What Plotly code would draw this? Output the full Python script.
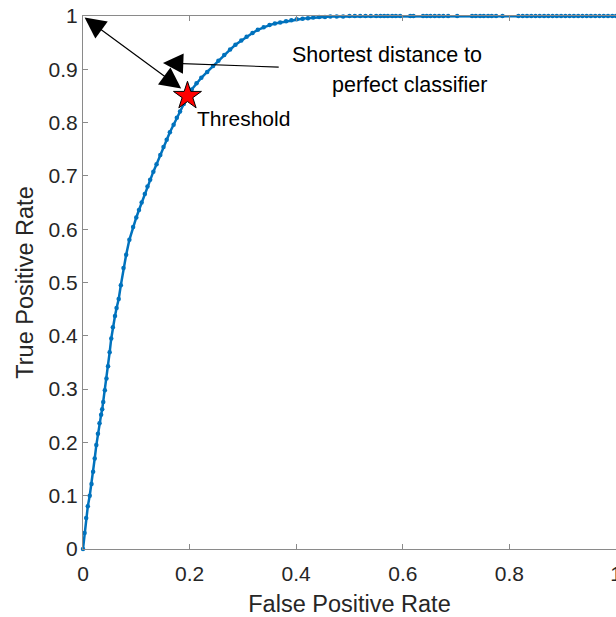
import plotly.graph_objects as go

fpr = [0.000, 0.003, 0.006, 0.009, 0.0126, 0.016, 0.019, 0.022, 0.025, 0.028,
       0.031, 0.034, 0.036, 0.038, 0.041, 0.044, 0.047, 0.050, 0.053, 0.056,
       0.060, 0.063, 0.067, 0.071, 0.076, 0.081, 0.087, 0.094, 0.100, 0.105,
       0.110, 0.116, 0.121, 0.126, 0.132, 0.138, 0.145, 0.151, 0.157, 0.163,
       0.170, 0.176, 0.182, 0.189, 0.196, 0.204, 0.213, 0.222, 0.233, 0.244,
       0.254, 0.265, 0.276, 0.286, 0.297, 0.307, 0.318, 0.328, 0.339, 0.350,
       0.360, 0.370, 0.381, 0.391, 0.401, 0.412, 0.422, 0.432, 0.443, 0.454,
       0.464, 0.476, 0.488, 0.500, 0.510, 0.520, 0.530, 0.540, 0.550, 0.558,
       0.565, 0.572, 0.580, 0.587, 0.595, 0.614, 0.620, 0.638, 0.645, 0.652,
       0.660, 0.668, 0.676, 0.685, 0.702, 0.730, 0.737, 0.745, 0.752, 0.760,
       0.767, 0.775, 0.787, 0.817, 0.825, 0.833, 0.841, 0.849, 0.857, 0.865,
       0.873, 0.881, 0.889, 0.897, 0.905, 0.913, 0.921, 0.929, 0.937, 0.945,
       0.953, 0.961, 0.969, 0.977, 0.985, 0.993, 1.000]
tpr = [0.000, 0.030, 0.058, 0.080, 0.100, 0.122, 0.145, 0.170, 0.195, 0.216,
       0.236, 0.252, 0.262, 0.276, 0.298, 0.320, 0.343, 0.369, 0.395, 0.416,
       0.437, 0.452, 0.469, 0.495, 0.527, 0.552, 0.580, 0.604, 0.622, 0.636,
       0.650, 0.666, 0.680, 0.693, 0.708, 0.722, 0.739, 0.754, 0.768, 0.782,
       0.796, 0.809, 0.821, 0.835, 0.849, 0.862, 0.874, 0.884, 0.895, 0.906,
       0.916, 0.927, 0.937, 0.946, 0.954, 0.961, 0.968, 0.974, 0.979, 0.983,
       0.986, 0.988, 0.990, 0.992, 0.994, 0.995, 0.996, 0.997, 0.998, 0.998,
       0.999, 0.999, 0.999, 1.000, 1.000, 1.000, 1.000, 1.000, 1.000, 1.000,
       1.000, 1.000, 1.000, 1.000, 1.000, 1.000, 1.000, 1.000, 1.000, 1.000,
       1.000, 1.000, 1.000, 1.000, 1.000, 1.000, 1.000, 1.000, 1.000, 1.000,
       1.000, 1.000, 1.000, 1.000, 1.000, 1.000, 1.000, 1.000, 1.000, 1.000,
       1.000, 1.000, 1.000, 1.000, 1.000, 1.000, 1.000, 1.000, 1.000, 1.000,
       1.000, 1.000, 1.000, 1.000, 1.000, 1.000, 1.000]

threshold_point = (0.196, 0.850)
perfect_point = (0.0, 1.0)
x_ticks = [0, 0.2, 0.4, 0.6, 0.8, 1]
x_tick_text = ["0", "0.2", "0.4", "0.6", "0.8", "1"]
y_ticks = [0, 0.1, 0.2, 0.3, 0.4, 0.5, 0.6, 0.7, 0.8, 0.9, 1]
y_tick_text = ["0", "0.1", "0.2", "0.3", "0.4", "0.5", "0.6", "0.7", "0.8", "0.9", "1"]

FONT = "Liberation Sans, Arial, sans-serif"
AX = "#262626"
LINE = "#8a8a8a"

fig = go.Figure()
fig.add_trace(go.Scatter(
    x=fpr, y=tpr, mode="lines+markers",
    line=dict(color="#0072BD", width=2.5),
    marker=dict(color="#0072BD", size=4.5, symbol="circle"),
    showlegend=False, cliponaxis=False,
))
fig.add_trace(go.Scatter(
    x=[threshold_point[0]], y=[threshold_point[1]], mode="markers",
    marker=dict(symbol="star", size=21, color="#ff0000",
                line=dict(color="black", width=1)),
    showlegend=False, cliponaxis=False,
))

# double-headed arrow: perfect classifier <-> threshold
fig.add_annotation(
    x=perfect_point[0] + 0.003, y=perfect_point[1] - 0.003,
    ax=0.187, ay=0.862, xref="x", yref="y", axref="x", ayref="y",
    showarrow=True, arrowhead=2, startarrowhead=2, arrowside="end+start",
    arrowsize=3.5, startarrowsize=3.5, arrowwidth=1.2, arrowcolor="black", text="",
)
# arrow from label
fig.add_annotation(
    x=0.150, y=0.912, ax=0.370, ay=0.904,
    xref="x", yref="y", axref="x", ayref="y",
    showarrow=True, arrowhead=2, arrowsize=3.7, arrowwidth=1.1,
    arrowcolor="black", text="",
)
fig.add_annotation(x=0.389, y=0.927, xref="x", yref="y", text="Shortest distance to",
                   showarrow=False, xanchor="left", yanchor="middle",
                   font=dict(family=FONT, size=21.5, color="black"))
fig.add_annotation(x=0.464, y=0.870, xref="x", yref="y", text="perfect classifier",
                   showarrow=False, xanchor="left", yanchor="middle",
                   font=dict(family=FONT, size=21.5, color="black"))
fig.add_annotation(x=0.210, y=0.808, xref="x", yref="y", text="Threshold",
                   showarrow=False, xanchor="left", yanchor="middle",
                   font=dict(family=FONT, size=21, color="black"))

fig.update_layout(
    width=616, height=617,
    margin=dict(l=83, r=0, t=16, b=68, pad=0, autoexpand=False),
    paper_bgcolor="white", plot_bgcolor="white",
    font=dict(family=FONT, color=AX),
    xaxis=dict(
        range=[0, 1], tickvals=x_ticks, ticktext=x_tick_text, automargin=False,
        ticks="inside", ticklen=5, tickcolor=LINE, tickwidth=1,
        showline=True, linecolor=LINE, linewidth=1, mirror="ticks",
        showgrid=False, zeroline=False, ticklabelstandoff=6,
        ticklabeloverflow="allow",
        tickfont=dict(family=FONT, size=21, color=AX),
        title=dict(text="False Positive Rate", font=dict(family=FONT, size=23.5, color=AX), standoff=16),
    ),
    yaxis=dict(
        range=[0, 1], tickvals=y_ticks, ticktext=y_tick_text, automargin=False,
        ticks="inside", ticklen=5, tickcolor=LINE, tickwidth=1,
        showline=True, linecolor=LINE, linewidth=1, mirror=False,
        showgrid=False, zeroline=False, ticklabeloverflow="allow",
        tickfont=dict(family=FONT, size=21, color=AX),
        title=dict(text="True Positive Rate", font=dict(family=FONT, size=23.5, color=AX), standoff=8),
    ),
)

fig.write_html(
    "out.html",
    config={"displayModeBar": False},
    post_script="document.body.style.margin='0';document.body.style.overflow='hidden';",
)
